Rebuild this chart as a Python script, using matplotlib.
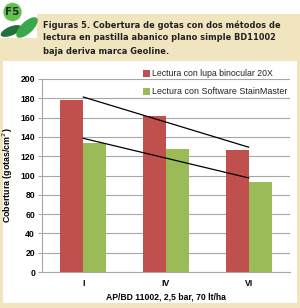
import numpy as np
import matplotlib.pyplot as plt
from matplotlib.patches import Rectangle, Ellipse

categories = ['I', 'IV', 'VI']
lupa = [178, 162, 126]
software = [134, 127, 93]
series_names = ['Lectura con lupa binocular 20X', 'Lectura con Software StainMaster']
title_lines = ['Figuras 5. Cobertura de gotas con dos métodos de',
               'lectura en pastilla abanico plano simple BD11002',
               'baja deriva marca Geoline.']
y_ticks = [0, 20, 40, 60, 80, 100, 120, 140, 160, 180, 200]

W, H = 300, 308
red = '#C0504D'
green = '#9BBB59'
beige = '#F1E5BF'


def fx(x):
    return x / W


def fy(y):
    return 1 - y / H


def fit_width(t, target_px):
    # shrink/grow a text so it spans roughly target_px
    r = fig.canvas.get_renderer()
    wpx = t.get_window_extent(renderer=r).width
    t.set_fontsize(t.get_fontsize() * target_px / wpx)


fig = plt.figure(figsize=(3.0, 3.08), dpi=100, facecolor='white')

# background panels
fig.add_artist(Rectangle((fx(37), fy(60)), fx(263), 46 / H, transform=fig.transFigure,
                         facecolor=beige, edgecolor='none', zorder=0))
fig.add_artist(Rectangle((0, 0), 1, fy(38), transform=fig.transFigure,
                         facecolor=beige, edgecolor='none', zorder=0))
fig.add_artist(Rectangle((fx(3), fy(303)), fx(294), 242 / H, transform=fig.transFigure,
                         facecolor='white', edgecolor='none', zorder=0))

# logo
fig.add_artist(Ellipse((fx(11), fy(31)), 22 / W, 9 / H, angle=22, transform=fig.transFigure,
                       facecolor='#24703A', edgecolor='none', zorder=1))
fig.add_artist(Ellipse((fx(27), fy(27.5)), 27 / W, 12 / H, angle=42, transform=fig.transFigure,
                       facecolor='#38A84A', edgecolor='none', zorder=1))
fig.add_artist(Ellipse((fx(12.5), fy(12)), 19 / W, 19 / H, transform=fig.transFigure,
                       facecolor='#62C04E', edgecolor='#E8F5E0', lw=0.6, zorder=2))
fig.text(fx(12.5), fy(12), 'F5', color='#2B2B2B', fontsize=7.5, fontweight='bold',
         ha='center', va='center', family='DejaVu Sans', zorder=3)

title_texts = []
for i, line in enumerate(title_lines):
    t = fig.text(fx(43), fy(25 + 13 * i), line, fontsize=7, fontweight='bold',
                 color='#222222', ha='left', va='center', family='DejaVu Sans')
    title_texts.append(t)
fit_width(title_texts[0], 236)
for t in title_texts[1:]:
    t.set_fontsize(title_texts[0].get_fontsize())

ax = fig.add_axes([fx(42), fy(272), (290 - 42) / W, (272 - 79) / H])
ax.set_facecolor('none')

x = np.arange(len(categories))
w = 0.28
ax.bar(x - w / 2, lupa, w, color=red, zorder=2)
ax.bar(x + w / 2, software, w, color=green, zorder=2)

# linear trendlines
for vals in (lupa, software):
    k, b = np.polyfit(x, vals, 1)
    ax.plot(x, k * x + b, color='black', lw=0.9, zorder=3)

ax.set_xlim(-0.5, 2.5)
ax.set_ylim(0, 200)
ax.set_yticks(y_ticks)
ax.set_xticks(x)
ax.set_xticklabels(categories)
ax.grid(axis='y', color='#A6A6A6', lw=0.8, zorder=0)
ax.set_axisbelow(True)
for s in ['top', 'right']:
    ax.spines[s].set_visible(False)
for s in ['left', 'bottom']:
    ax.spines[s].set_color('#A6A6A6')
ax.tick_params(axis='y', length=3, color='#A6A6A6', pad=2)
ax.tick_params(axis='x', length=0, pad=5)
for lab in ax.get_xticklabels() + ax.get_yticklabels():
    lab.set_fontsize(6.2)
    lab.set_fontweight('bold')
    lab.set_family('Liberation Sans')

ax.set_ylabel('Cobertura (gotas/cm$^2$)', fontsize=6.4, fontweight='bold',
              family='Liberation Sans', labelpad=4)
ax.set_xlabel('AP/BD 11002, 2,5 bar, 70 lt/ha', fontsize=6.2, fontweight='bold',
              family='Liberation Sans', labelpad=3)

# legend, drawn as swatches and texts
leg_colors = [red, green]
leg_y = [73, 91]
leg_w = [122, 134]
for name, c, yy, ww in zip(series_names, leg_colors, leg_y, leg_w):
    fig.add_artist(Rectangle((fx(143), fy(yy + 3.5)), 7 / W, 7 / H, transform=fig.transFigure,
                             facecolor=c, edgecolor='none', zorder=4))
    t = fig.text(fx(152), fy(yy), name, fontsize=8, color='#222222', ha='left', va='center',
                 family='Liberation Sans', zorder=4)
    fit_width(t, ww)

fig.savefig('out.png', dpi=100, facecolor=fig.get_facecolor())
